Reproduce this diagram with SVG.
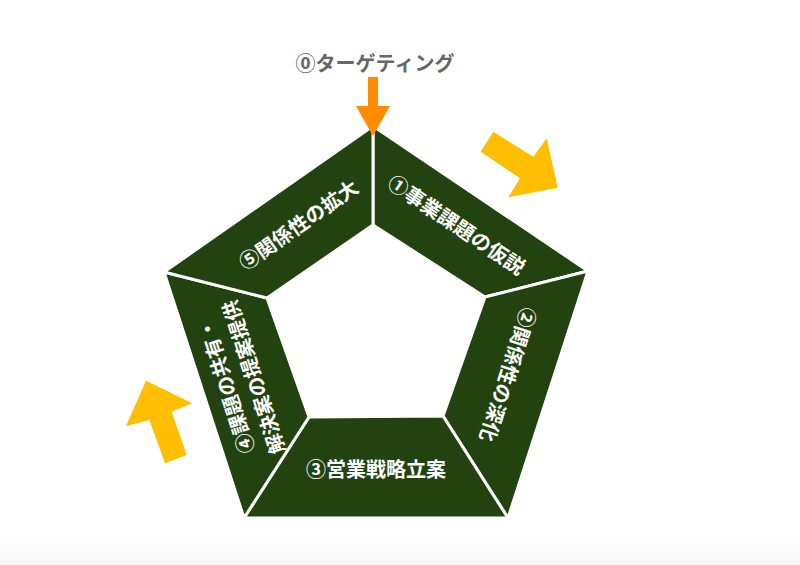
<svg xmlns="http://www.w3.org/2000/svg" width="800" height="565" viewBox="0 0 800 565">
<defs>
<style>
.seg{fill:#22430f;stroke:#ffffff;stroke-width:3;stroke-linejoin:round}
.lbl{font-family:"Noto Sans CJK JP","Noto Sans CJK SC",sans-serif;font-size:20px;font-weight:bold;fill:#ffffff;text-anchor:middle;dominant-baseline:central}
.ttl{font-family:"Noto Sans CJK JP","Noto Sans CJK SC",sans-serif;font-size:20px;font-weight:bold;fill:#666666;text-anchor:middle;dominant-baseline:central}
.ya{fill:#ffbf00}
.oa{fill:#ff8c00}
</style>
<linearGradient id="bg" x1="0" y1="0" x2="0" y2="1">
<stop offset="0" stop-color="#ffffff"/>
<stop offset="1" stop-color="#f6f6f6"/>
</linearGradient>
</defs>
<rect x="0" y="0" width="800" height="565" fill="#ffffff"/>
<rect x="0" y="535" width="800" height="30" fill="url(#bg)"/>

<g id="node1">
<polygon class="seg" points="373,126 588,271 485,297 373,225"/>
<text class="lbl" transform="translate(457,224) rotate(34)">①事業課題の仮説</text>
</g>
<g id="node2">
<polygon class="seg" points="588,271 508,518 443,416 485,297"/>
<text class="lbl" transform="translate(509,375) rotate(108)">②関係性の深化</text>
</g>
<g id="node3">
<polygon class="seg" points="508,518 244,518 309,417 443,416"/>
<text class="lbl" x="376" y="468">③営業戦略立案</text>
</g>
<g id="node4">
<polygon class="seg" points="244,518 164,272 267,298 309,417"/>
<g transform="translate(239,382) rotate(-108)">
<text class="lbl" x="0" y="-14.5">④課題の共有・</text>
<text class="lbl" x="0" y="14.5">解決案の提案提供</text>
</g>
</g>
<g id="node5">
<polygon class="seg" points="164,272 373,126 373,225 267,298"/>
<text class="lbl" transform="translate(298,224) rotate(-35)">⑤関係性の拡大</text>
</g>

<g id="node0">
<text class="ttl" x="375" y="62">⓪ターゲティング</text>
</g>

<g id="connectors">
<polygon class="oa" points="368,77 378,77 378,106 390,106 373,136 356,106 368,106"/>
<polygon class="ya" points="480.7,151.7 493.3,131.7 533.3,156.7 546.7,138.3 557.7,187.7 508.3,197.3 520,178.3"/>
<polygon class="ya" points="146,380.7 192.3,403.3 171.7,411.7 186.7,455 165,463.3 149.3,420 126,426"/>
</g>
</svg>
